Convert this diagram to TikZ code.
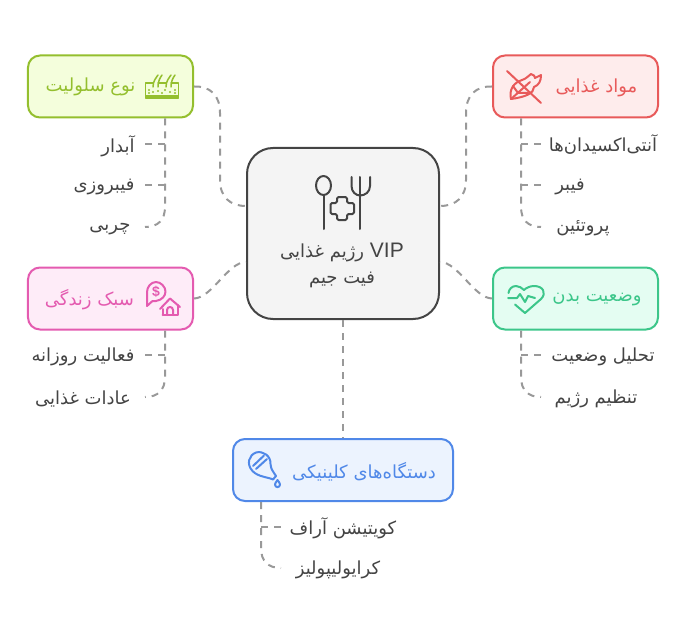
\documentclass[tikz,border=0pt]{standalone}
\usepackage{fontspec}
\setmainfont{Liberation Sans}
\newfontfamily\arabicfont[Script=Arabic]{DejaVu Sans}
\TeXXeTstate=1
\definecolor{grn}{HTML}{94BF2E}\definecolor{grnf}{HTML}{F4FEDC}
\definecolor{redd}{HTML}{E85A5A}\definecolor{reddf}{HTML}{FEECEC}
\definecolor{pnk}{HTML}{E45BB0}\definecolor{pnkf}{HTML}{FEECF8}
\definecolor{mnt}{HTML}{3CC68A}\definecolor{mntf}{HTML}{E4FDF2}
\definecolor{blu}{HTML}{5088E8}\definecolor{bluf}{HTML}{ECF3FE}
\definecolor{ctr}{HTML}{444444}\definecolor{ctrf}{HTML}{F4F4F4}
\definecolor{lnk}{HTML}{999999}
\newcommand{\rtl}[1]{{\arabicfont\beginR #1\endR}}
\tikzset{
  boxn/.style={draw=#1,fill=#1f,line width=2bp,rounded corners=12bp,minimum width=165bp,minimum height=62bp,inner sep=0pt},
  lab/.style={text=#1,font=\fontsize{18bp}{22bp}\selectfont,inner sep=0pt},
  kid/.style={text=ctr,font=\fontsize{18bp}{22bp}\selectfont,inner sep=0pt},
  link/.style={draw=lnk,line width=2bp,dash pattern=on 7bp off 6bp},
  ico/.style={draw=#1,line width=2bp,line cap=round,line join=round,fill=none}
}
\begin{document}
\begin{tikzpicture}[x=1bp,y=-1bp]
\useasboundingbox (0,0) rectangle (687,639);
% boxes
\node[boxn=ctr,rounded corners=26bp,minimum width=192bp,minimum height=171bp] (core) at (343,233.5) {};
\node[boxn=grn] (skin) at (110.5,86.5) {};
\node[boxn=redd] (food) at (575.5,86.5) {};
\node[boxn=pnk] (life) at (110.5,298.5) {};
\node[boxn=mnt] (body) at (575.5,298.5) {};
\node[boxn=blu,minimum width=220bp] (tool) at (343,470) {};
% connector anchors
\coordinate (cw1) at (246,206); \coordinate (cw2) at (246,262);
\coordinate (ce1) at (440,206); \coordinate (ce2) at (440,262);
\coordinate (sk) at (165,118.5); \coordinate (fd) at (521,118.5);
\coordinate (lf) at (165,330.5); \coordinate (bd) at (521,330.5);
\coordinate (tl) at (261,502);
\coordinate (sa) at (165,144); \coordinate (sb) at (165,185);
\coordinate (fa) at (521,144); \coordinate (fb) at (521,185);
\coordinate (la) at (165,355); \coordinate (ba) at (521,355); \coordinate (ta) at (261,527);
\coordinate (a1) at (145,144); \coordinate (a2) at (145,185); \coordinate (a3) at (145,227);
\coordinate (b1) at (541,144); \coordinate (b2) at (541,185); \coordinate (b3) at (541,227);
\coordinate (c1) at (145,355); \coordinate (c2) at (145,397);
\coordinate (d1) at (541,355); \coordinate (d2) at (541,397);
\coordinate (e1) at (281,527); \coordinate (e2) at (281,568);
% main links
\draw[link] (skin.east) .. controls (210,86) and (220,95) .. (220,113) -- (220,180) .. controls (220,197) and (230,206) .. (cw1);
\draw[link] (food.west) .. controls (476,86) and (466,95) .. (466,113) -- (466,180) .. controls (466,197) and (456,206) .. (ce1);
\draw[link] (life.east) .. controls (212,298) and (228,262) .. (cw2);
\draw[link] (body.west) .. controls (474,298) and (458,262) .. (ce2);
\draw[link] (core.south) -- (tool.north);
% child links
\draw[link] (sk) -- (165,207) .. controls (165,220) and (158,227) .. (a3);
\draw[link] (sa) -- (a1); \draw[link] (sb) -- (a2);
\draw[link] (fd) -- (521,207) .. controls (521,220) and (528,227) .. (b3);
\draw[link] (fa) -- (b1); \draw[link] (fb) -- (b2);
\draw[link] (lf) -- (165,377) .. controls (165,390) and (158,397) .. (c2);
\draw[link] (la) -- (c1);
\draw[link] (bd) -- (521,377) .. controls (521,390) and (528,397) .. (d2);
\draw[link] (ba) -- (d1);
\draw[link] (tl) -- (261,548) .. controls (261,561) and (268,568) .. (e2);
\draw[link] (ta) -- (e1);
% labels
\node[lab=ctr,align=center] (corelab) at (342,265) {\rtl{\beginL{\fontsize{21bp}{21bp}\selectfont\rmfamily VIP}\endL{} رژیم غذایی}\\[4bp]\rtl{فیت جیم}};
\node[lab=grn] (skinlab) at (90.5,87) {\rtl{نوع سلولیت}};
\node[lab=redd] (foodlab) at (596.5,88) {\rtl{مواد غذایی}};
\node[lab=pnk] (lifelab) at (89.5,300) {\rtl{سبک زندگی}};
\node[lab=mnt] (bodylab) at (597,300) {\rtl{وضعیت بدن}};
\node[lab=blu] (toollab) at (364,472) {\rtl{دستگاه‌های کلینیکی}};
\node[kid] (k1) at (118,146) {\rtl{آبدار}};
\node[kid] (k2) at (104,187) {\rtl{فیبروزی}};
\node[kid] (k3) at (110,229) {\rtl{چربی}};
\node[kid] (k4) at (603,145) {\rtl{آنتی‌اکسیدان‌ها}};
\node[kid] (k5) at (570,187) {\rtl{فیبر}};
\node[kid] (k6) at (583,228) {\rtl{پروتئین}};
\node[kid] (k7) at (83,357) {\rtl{فعالیت روزانه}};
\node[kid] (k8) at (83,399) {\rtl{عادات غذایی}};
\node[kid] (k9) at (603,357) {\rtl{تحلیل وضعیت}};
\node[kid] (k10) at (596,399) {\rtl{تنظیم رژیم}};
\node[kid] (k11) at (343,528) {\rtl{کویتیشن آراف}};
\node[kid] (k12) at (338,570) {\rtl{کرایولیپولیز}};
% center icon
\draw[ico=ctr] (323.5,185.5) ellipse (7.5 and 9.5);
\draw[ico=ctr] (323.5,195) -- (323.5,229);
\draw[ico=ctr] (351.5,177) -- (351.5,186) .. controls (351.5,192) and (356,195.5) .. (360,195.5) .. controls (365,195.5) and (370,192) .. (370,186) -- (370,177);
\draw[ico=ctr] (360,177) -- (360,229);
\draw[ico=ctr,rounded corners=1.5bp] (337,197) -- (347,197) -- (347,203) -- (354,203) -- (354,214) -- (347,214) -- (347,220) -- (337,220) -- (337,214) -- (330.5,214) -- (330.5,203) -- (337,203) -- cycle;
% skin icon
\draw[ico=grn,line width=1.8bp] (145.5,83) -- (178.5,83) -- (178.5,98) -- (145.5,98) -- cycle;
\fill[grn] (145.5,95) rectangle (178.5,98.5);
\fill[grnf] (154,82) rectangle (157.5,84.5) (167,82) rectangle (170.5,84.5);
\draw[ico=grn,line width=1.5bp] (153,87) .. controls (153,81) and (156,78) .. (158,75);
\draw[ico=grn,line width=1.5bp] (158,87) .. controls (158,81) and (160,78) .. (162,75);
\draw[ico=grn,line width=1.5bp] (166,87) .. controls (166,81) and (169,78) .. (171,75);
\draw[ico=grn,line width=1.5bp] (171,87) .. controls (171,81) and (173,78) .. (175,75);
\foreach \px/\py in {149/90,149/93,153/92,158/91,162/93,165/90,170/92,175/90,175/93}{\fill[grn] (\px,\py) circle (1.1);}
% food icon
\draw[ico=redd] (511,99) .. controls (509,90) and (513,83) .. (522,80) .. controls (526,79) and (528,76) .. (531,74) .. controls (534,75) and (535,76) .. (535,78) .. controls (537,77) and (539,76) .. (541,75) .. controls (541,81) and (539,85) .. (534,87) .. controls (534,93) and (526,97) .. (511,99) -- cycle;
\draw[ico=redd] (511,99) -- (530,82);
\draw[ico=redd] (513,86) -- (518,93) -- (528,93);
\draw[ico=redd] (507,71) -- (541,103);
% life icon
\draw[ico=pnk] (147,306) -- (147,292) .. controls (147,287) and (151,282) .. (156,282) .. controls (161,282) and (165.5,287) .. (165.5,291.5) .. controls (165.5,296) and (162,300) .. (156,301) -- (152.5,301) -- cycle;
\node[text=pnk,font=\bfseries\fontsize{14bp}{14bp}\selectfont,inner sep=0pt] (dollar) at (156,292) {\$};
\draw[ico=pnk] (160,309) -- (170,298.5) -- (180,307);
\draw[ico=pnk] (162.5,315) -- (162.5,309) (177.5,305) -- (177.5,315) -- (162.5,315);
\draw[ico=pnk] (167,315) -- (167,310) .. controls (167,306) and (173,306) .. (173,310) -- (173,315);
% heart icon
\draw[ico=mnt] (515,304.5) -- (525,313) -- (541,299) .. controls (547,293) and (543,286) .. (534,286) .. controls (530,286) and (526,288) .. (524,290) .. controls (522,288) and (519,286) .. (516,286) .. controls (512,286) and (509,289) .. (508.5,293);
\draw[ico=mnt] (508,298) -- (517,298) -- (520,294) -- (525,302) -- (528,296) -- (535,298);
% tool icon
\draw[ico=blu] (252.5,471) .. controls (246,464) and (249,455) .. (256,452.5) .. controls (263,450.5) and (271,456) .. (270.5,464) .. controls (271,470) and (273,471) .. (276,476) -- (273,479.5) .. controls (268,477) and (258,477) .. (252.5,471) -- cycle;
\draw[ico=blu] (253,466) -- (264,455.5);
\draw[ico=blu] (256,469) -- (267,459);
\draw[ico=blu] (277.5,480) .. controls (276,482.5) and (275,483) .. (275,484.5) .. controls (275,488) and (280,488) .. (280,484.5) .. controls (280,483) and (279,482.5) .. (277.5,480) -- cycle;
\end{tikzpicture}
\end{document}
